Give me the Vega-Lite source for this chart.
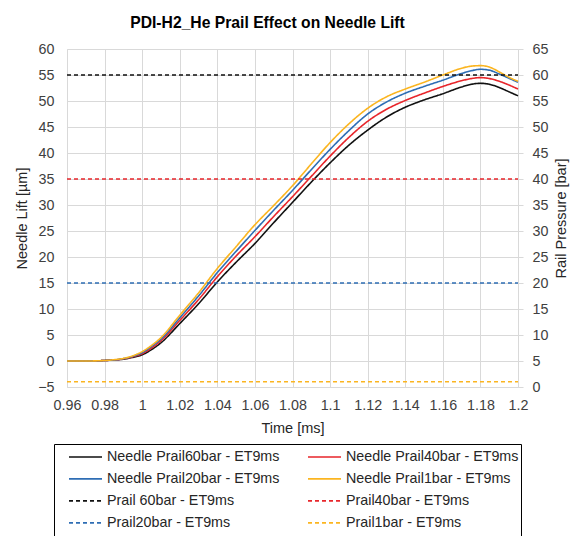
{
  "$schema": "https://vega.github.io/schema/vega-lite/v6.json",
  "width": 451,
  "height": 338,
  "autosize": "none",
  "padding": {"left": 67, "top": 49, "right": 53, "bottom": 149},
  "config": {
    "font": "Liberation Sans",
    "view": {"stroke": null},
    "axis": {
      "labelFontSize": 14.3,
      "labelColor": "#404040",
      "labelOverlap": false,
      "titleFontSize": 14.5,
      "titleFontWeight": "normal",
      "titleColor": "#262626",
      "gridColor": "#d9d9d9",
      "domainColor": "#d9d9d9",
      "tickColor": "#d9d9d9"
    },
    "axisX": {"labelOverlap": false, "labelFlush": false, "labelBound": false}
  },
  "title": {
    "text": "PDI-H2_He Prail Effect on Needle Lift",
    "fontSize": 15.7,
    "fontWeight": "bold",
    "color": "#000000",
    "anchor": "middle",
    "dx": -25,
    "offset": 10
  },
  "datasets": {
    "lift": [
      {"t": 0.96, "series": "Needle Prail60bar - ET9ms", "lift": 0},
      {"t": 0.97, "series": "Needle Prail60bar - ET9ms", "lift": 0},
      {"t": 0.98, "series": "Needle Prail60bar - ET9ms", "lift": 0.1},
      {"t": 0.985, "series": "Needle Prail60bar - ET9ms", "lift": 0.2},
      {"t": 0.99, "series": "Needle Prail60bar - ET9ms", "lift": 0.35},
      {"t": 0.995, "series": "Needle Prail60bar - ET9ms", "lift": 0.7},
      {"t": 1.0, "series": "Needle Prail60bar - ET9ms", "lift": 1.2},
      {"t": 1.005, "series": "Needle Prail60bar - ET9ms", "lift": 2.2},
      {"t": 1.01, "series": "Needle Prail60bar - ET9ms", "lift": 3.5},
      {"t": 1.02, "series": "Needle Prail60bar - ET9ms", "lift": 7.2},
      {"t": 1.03, "series": "Needle Prail60bar - ET9ms", "lift": 11.0},
      {"t": 1.04, "series": "Needle Prail60bar - ET9ms", "lift": 15.2},
      {"t": 1.05, "series": "Needle Prail60bar - ET9ms", "lift": 19.0},
      {"t": 1.06, "series": "Needle Prail60bar - ET9ms", "lift": 22.6},
      {"t": 1.07, "series": "Needle Prail60bar - ET9ms", "lift": 26.6},
      {"t": 1.08, "series": "Needle Prail60bar - ET9ms", "lift": 30.5},
      {"t": 1.09, "series": "Needle Prail60bar - ET9ms", "lift": 34.4},
      {"t": 1.1, "series": "Needle Prail60bar - ET9ms", "lift": 38.1},
      {"t": 1.11, "series": "Needle Prail60bar - ET9ms", "lift": 41.5},
      {"t": 1.12, "series": "Needle Prail60bar - ET9ms", "lift": 44.4},
      {"t": 1.13, "series": "Needle Prail60bar - ET9ms", "lift": 46.9},
      {"t": 1.14, "series": "Needle Prail60bar - ET9ms", "lift": 48.8},
      {"t": 1.15, "series": "Needle Prail60bar - ET9ms", "lift": 50.2},
      {"t": 1.16, "series": "Needle Prail60bar - ET9ms", "lift": 51.4},
      {"t": 1.17, "series": "Needle Prail60bar - ET9ms", "lift": 52.7},
      {"t": 1.175, "series": "Needle Prail60bar - ET9ms", "lift": 53.2},
      {"t": 1.18, "series": "Needle Prail60bar - ET9ms", "lift": 53.4},
      {"t": 1.185, "series": "Needle Prail60bar - ET9ms", "lift": 53.2},
      {"t": 1.19, "series": "Needle Prail60bar - ET9ms", "lift": 52.6},
      {"t": 1.195, "series": "Needle Prail60bar - ET9ms", "lift": 51.8},
      {"t": 1.2, "series": "Needle Prail60bar - ET9ms", "lift": 51.0},

      {"t": 0.96, "series": "Needle Prail40bar - ET9ms", "lift": 0},
      {"t": 0.97, "series": "Needle Prail40bar - ET9ms", "lift": 0},
      {"t": 0.98, "series": "Needle Prail40bar - ET9ms", "lift": 0.1},
      {"t": 0.985, "series": "Needle Prail40bar - ET9ms", "lift": 0.2},
      {"t": 0.99, "series": "Needle Prail40bar - ET9ms", "lift": 0.4},
      {"t": 0.995, "series": "Needle Prail40bar - ET9ms", "lift": 0.8},
      {"t": 1.0, "series": "Needle Prail40bar - ET9ms", "lift": 1.4},
      {"t": 1.005, "series": "Needle Prail40bar - ET9ms", "lift": 2.5},
      {"t": 1.01, "series": "Needle Prail40bar - ET9ms", "lift": 3.9},
      {"t": 1.02, "series": "Needle Prail40bar - ET9ms", "lift": 7.8},
      {"t": 1.03, "series": "Needle Prail40bar - ET9ms", "lift": 11.8},
      {"t": 1.04, "series": "Needle Prail40bar - ET9ms", "lift": 16.2},
      {"t": 1.05, "series": "Needle Prail40bar - ET9ms", "lift": 20.2},
      {"t": 1.06, "series": "Needle Prail40bar - ET9ms", "lift": 23.9},
      {"t": 1.07, "series": "Needle Prail40bar - ET9ms", "lift": 27.8},
      {"t": 1.08, "series": "Needle Prail40bar - ET9ms", "lift": 31.6},
      {"t": 1.09, "series": "Needle Prail40bar - ET9ms", "lift": 35.5},
      {"t": 1.1, "series": "Needle Prail40bar - ET9ms", "lift": 39.4},
      {"t": 1.11, "series": "Needle Prail40bar - ET9ms", "lift": 43.0},
      {"t": 1.12, "series": "Needle Prail40bar - ET9ms", "lift": 46.1},
      {"t": 1.13, "series": "Needle Prail40bar - ET9ms", "lift": 48.4},
      {"t": 1.14, "series": "Needle Prail40bar - ET9ms", "lift": 50.1},
      {"t": 1.15, "series": "Needle Prail40bar - ET9ms", "lift": 51.5},
      {"t": 1.16, "series": "Needle Prail40bar - ET9ms", "lift": 52.8},
      {"t": 1.17, "series": "Needle Prail40bar - ET9ms", "lift": 53.9},
      {"t": 1.175, "series": "Needle Prail40bar - ET9ms", "lift": 54.3},
      {"t": 1.18, "series": "Needle Prail40bar - ET9ms", "lift": 54.5},
      {"t": 1.185, "series": "Needle Prail40bar - ET9ms", "lift": 54.3},
      {"t": 1.19, "series": "Needle Prail40bar - ET9ms", "lift": 53.8},
      {"t": 1.195, "series": "Needle Prail40bar - ET9ms", "lift": 53.1},
      {"t": 1.2, "series": "Needle Prail40bar - ET9ms", "lift": 52.3},

      {"t": 0.96, "series": "Needle Prail20bar - ET9ms", "lift": 0},
      {"t": 0.97, "series": "Needle Prail20bar - ET9ms", "lift": 0},
      {"t": 0.98, "series": "Needle Prail20bar - ET9ms", "lift": 0.1},
      {"t": 0.985, "series": "Needle Prail20bar - ET9ms", "lift": 0.2},
      {"t": 0.99, "series": "Needle Prail20bar - ET9ms", "lift": 0.45},
      {"t": 0.995, "series": "Needle Prail20bar - ET9ms", "lift": 0.9},
      {"t": 1.0, "series": "Needle Prail20bar - ET9ms", "lift": 1.6},
      {"t": 1.005, "series": "Needle Prail20bar - ET9ms", "lift": 2.8},
      {"t": 1.01, "series": "Needle Prail20bar - ET9ms", "lift": 4.2},
      {"t": 1.02, "series": "Needle Prail20bar - ET9ms", "lift": 8.3},
      {"t": 1.03, "series": "Needle Prail20bar - ET9ms", "lift": 12.5},
      {"t": 1.04, "series": "Needle Prail20bar - ET9ms", "lift": 17.0},
      {"t": 1.05, "series": "Needle Prail20bar - ET9ms", "lift": 21.1},
      {"t": 1.06, "series": "Needle Prail20bar - ET9ms", "lift": 25.1},
      {"t": 1.07, "series": "Needle Prail20bar - ET9ms", "lift": 29.0},
      {"t": 1.08, "series": "Needle Prail20bar - ET9ms", "lift": 32.8},
      {"t": 1.09, "series": "Needle Prail20bar - ET9ms", "lift": 36.8},
      {"t": 1.1, "series": "Needle Prail20bar - ET9ms", "lift": 40.7},
      {"t": 1.11, "series": "Needle Prail20bar - ET9ms", "lift": 44.3},
      {"t": 1.12, "series": "Needle Prail20bar - ET9ms", "lift": 47.5},
      {"t": 1.13, "series": "Needle Prail20bar - ET9ms", "lift": 49.8},
      {"t": 1.14, "series": "Needle Prail20bar - ET9ms", "lift": 51.5},
      {"t": 1.15, "series": "Needle Prail20bar - ET9ms", "lift": 52.8},
      {"t": 1.16, "series": "Needle Prail20bar - ET9ms", "lift": 54.0},
      {"t": 1.17, "series": "Needle Prail20bar - ET9ms", "lift": 55.3},
      {"t": 1.175, "series": "Needle Prail20bar - ET9ms", "lift": 55.8},
      {"t": 1.18, "series": "Needle Prail20bar - ET9ms", "lift": 56.1},
      {"t": 1.185, "series": "Needle Prail20bar - ET9ms", "lift": 55.9},
      {"t": 1.19, "series": "Needle Prail20bar - ET9ms", "lift": 55.2},
      {"t": 1.195, "series": "Needle Prail20bar - ET9ms", "lift": 54.4},
      {"t": 1.2, "series": "Needle Prail20bar - ET9ms", "lift": 53.6},

      {"t": 0.96, "series": "Needle Prail1bar - ET9ms", "lift": 0},
      {"t": 0.97, "series": "Needle Prail1bar - ET9ms", "lift": 0},
      {"t": 0.98, "series": "Needle Prail1bar - ET9ms", "lift": 0.1},
      {"t": 0.985, "series": "Needle Prail1bar - ET9ms", "lift": 0.25},
      {"t": 0.99, "series": "Needle Prail1bar - ET9ms", "lift": 0.5},
      {"t": 0.995, "series": "Needle Prail1bar - ET9ms", "lift": 1.0},
      {"t": 1.0, "series": "Needle Prail1bar - ET9ms", "lift": 1.8},
      {"t": 1.005, "series": "Needle Prail1bar - ET9ms", "lift": 3.0},
      {"t": 1.01, "series": "Needle Prail1bar - ET9ms", "lift": 4.5},
      {"t": 1.02, "series": "Needle Prail1bar - ET9ms", "lift": 8.8},
      {"t": 1.03, "series": "Needle Prail1bar - ET9ms", "lift": 13.1},
      {"t": 1.04, "series": "Needle Prail1bar - ET9ms", "lift": 17.8},
      {"t": 1.05, "series": "Needle Prail1bar - ET9ms", "lift": 22.0},
      {"t": 1.06, "series": "Needle Prail1bar - ET9ms", "lift": 26.2},
      {"t": 1.07, "series": "Needle Prail1bar - ET9ms", "lift": 29.9},
      {"t": 1.08, "series": "Needle Prail1bar - ET9ms", "lift": 33.7},
      {"t": 1.09, "series": "Needle Prail1bar - ET9ms", "lift": 37.9},
      {"t": 1.1, "series": "Needle Prail1bar - ET9ms", "lift": 42.0},
      {"t": 1.11, "series": "Needle Prail1bar - ET9ms", "lift": 45.6},
      {"t": 1.12, "series": "Needle Prail1bar - ET9ms", "lift": 48.6},
      {"t": 1.13, "series": "Needle Prail1bar - ET9ms", "lift": 50.8},
      {"t": 1.14, "series": "Needle Prail1bar - ET9ms", "lift": 52.3},
      {"t": 1.15, "series": "Needle Prail1bar - ET9ms", "lift": 53.6},
      {"t": 1.16, "series": "Needle Prail1bar - ET9ms", "lift": 55.0},
      {"t": 1.17, "series": "Needle Prail1bar - ET9ms", "lift": 56.3},
      {"t": 1.175, "series": "Needle Prail1bar - ET9ms", "lift": 56.7},
      {"t": 1.18, "series": "Needle Prail1bar - ET9ms", "lift": 56.8},
      {"t": 1.185, "series": "Needle Prail1bar - ET9ms", "lift": 56.5},
      {"t": 1.19, "series": "Needle Prail1bar - ET9ms", "lift": 55.6},
      {"t": 1.195, "series": "Needle Prail1bar - ET9ms", "lift": 54.6},
      {"t": 1.2, "series": "Needle Prail1bar - ET9ms", "lift": 53.8}
    ],
    "rail": [
      {"t": 0.96, "series": "Prail 60bar -  ET9ms", "bar": 60},
      {"t": 1.2, "series": "Prail 60bar -  ET9ms", "bar": 60},
      {"t": 0.96, "series": "Prail40bar - ET9ms", "bar": 40},
      {"t": 1.2, "series": "Prail40bar - ET9ms", "bar": 40},
      {"t": 0.96, "series": "Prail20bar - ET9ms", "bar": 20},
      {"t": 1.2, "series": "Prail20bar - ET9ms", "bar": 20},
      {"t": 0.96, "series": "Prail1bar - ET9ms", "bar": 1},
      {"t": 1.2, "series": "Prail1bar - ET9ms", "bar": 1}
    ]
  },
  "layer": [
    {
      "data": {"name": "lift"},
      "mark": {"type": "line", "strokeWidth": 1.6, "interpolate": "monotone"},
      "encoding": {
        "x": {
          "field": "t",
          "type": "quantitative",
          "scale": {"domain": [0.96, 1.2], "nice": false, "zero": false},
          "axis": {
            "title": "Time [ms]",
            "values": [0.96, 0.98, 1.0, 1.02, 1.04, 1.06, 1.08, 1.1, 1.12, 1.14, 1.16, 1.18, 1.2],
            "format": ".2~f",
            "ticks": false,
            "labelOverlap": false,
            "labelFlush": false,
            "labelBound": false,
            "labelPadding": 11,
            "titlePadding": 9
          }
        },
        "y": {
          "field": "lift",
          "type": "quantitative",
          "scale": {"domain": [-5, 60], "nice": false, "zero": false},
          "axis": {
            "title": "Needle Lift [µm]",
            "values": [-5, 0, 5, 10, 15, 20, 25, 30, 35, 40, 45, 50, 55, 60],
            "ticks": false,
            "labelPadding": 13,
            "titlePadding": 8
          }
        },
        "color": {
          "field": "series",
          "type": "nominal",
          "scale": {
            "domain": ["Needle Prail60bar - ET9ms", "Needle Prail40bar - ET9ms", "Needle Prail20bar - ET9ms", "Needle Prail1bar - ET9ms", "Prail 60bar -  ET9ms", "Prail40bar - ET9ms", "Prail20bar - ET9ms", "Prail1bar - ET9ms"],
            "range": ["#111111", "#e8262b", "#2e6db4", "#fbb520", "#111111", "#e8262b", "#2e6db4", "#fbb520"]
          },
          "legend": {
            "title": null,
            "orient": "none",
            "direction": "horizontal",
            "legendX": -13,
            "legendY": 395,
            "columns": 2,
            "strokeColor": "#000000",
            "padding": 2,
            "clipHeight": 21.8,
            "symbolType": "stroke",
            "symbolSize": 1089,
            "symbolStrokeWidth": 1.6,
            "labelFontSize": 14.3,
            "labelColor": "#262626",
            "labelLimit": 300,
            "labelOffset": 4,
            "columnPadding": 15,
            "rowPadding": 0,
            "symbolOffset": 12
          }
        },
        "strokeDash": {
          "field": "series",
          "type": "nominal",
          "scale": {
            "domain": ["Needle Prail60bar - ET9ms", "Needle Prail40bar - ET9ms", "Needle Prail20bar - ET9ms", "Needle Prail1bar - ET9ms", "Prail 60bar -  ET9ms", "Prail40bar - ET9ms", "Prail20bar - ET9ms", "Prail1bar - ET9ms"],
            "range": [[1, 0], [1, 0], [1, 0], [1, 0], [4, 3], [4, 3], [4, 3], [4, 3]]
          }
        }
      }
    },
    {
      "data": {"name": "rail"},
      "mark": {"type": "line", "strokeWidth": 1.5},
      "encoding": {
        "x": {
          "field": "t",
          "type": "quantitative",
          "axis": {
            "title": "Time [ms]",
            "values": [0.96, 0.98, 1.0, 1.02, 1.04, 1.06, 1.08, 1.1, 1.12, 1.14, 1.16, 1.18, 1.2],
            "format": ".2~f",
            "ticks": false,
            "labelOverlap": false,
            "labelFlush": false,
            "labelBound": false,
            "labelPadding": 11,
            "titlePadding": 9
          }
        },
        "y": {
          "field": "bar",
          "type": "quantitative",
          "scale": {"domain": [0, 65], "nice": false, "zero": false},
          "axis": {
            "orient": "right",
            "title": "Rail Pressure [bar]",
            "titleAngle": 270,
            "values": [0, 5, 10, 15, 20, 25, 30, 35, 40, 45, 50, 55, 60, 65],
            "grid": false,
            "tickSize": 5,
            "labelPadding": 9,
            "titlePadding": 21
          }
        },
        "color": {"field": "series", "type": "nominal"},
        "strokeDash": {"field": "series", "type": "nominal"}
      }
    }
  ],
  "resolve": {"scale": {"y": "independent"}}
}
